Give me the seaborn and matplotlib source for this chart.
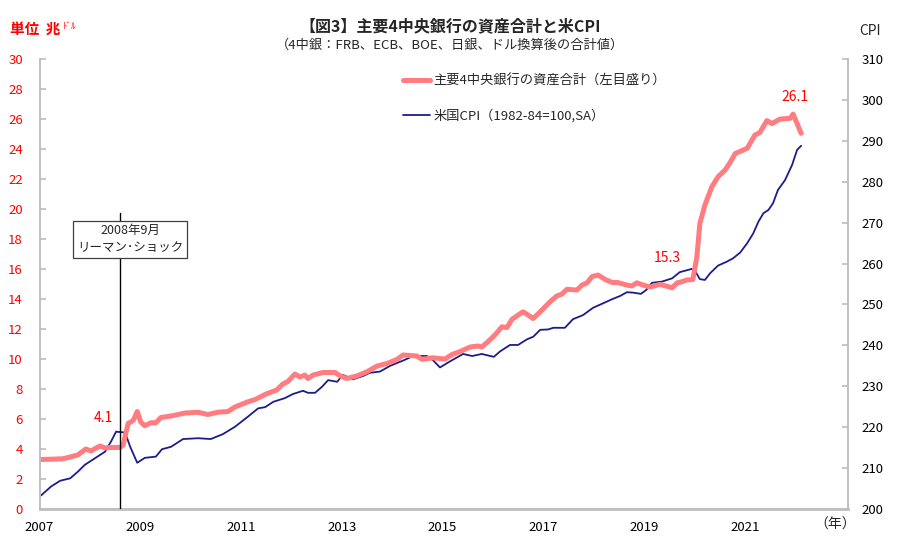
import matplotlib
matplotlib.use("Agg")
import matplotlib.pyplot as plt
import seaborn as sns
import pandas as pd

# Total assets of 4 central banks (trillion USD)
asset_year = [2007.0, 2007.25, 2007.47, 2007.76, 2007.92, 2008.02, 2008.2, 2008.3, 2008.4, 2008.6,
              2008.66, 2008.76, 2008.86, 2008.94, 2009.01, 2009.09, 2009.21, 2009.31, 2009.41, 2009.61,
              2009.89, 2010.15, 2010.34, 2010.54, 2010.74, 2010.88, 2011.14, 2011.28, 2011.52, 2011.71,
              2011.83, 2011.93, 2012.07, 2012.17, 2012.27, 2012.33, 2012.43, 2012.63, 2012.87, 2012.97,
              2013.1, 2013.3, 2013.5, 2013.7, 2013.9, 2014.1, 2014.22, 2014.49, 2014.59, 2014.81,
              2015.05, 2015.19, 2015.35, 2015.55, 2015.7, 2015.78, 2015.9, 2016.04, 2016.18, 2016.28,
              2016.38, 2016.5, 2016.6, 2016.7, 2016.8, 2016.94, 2017.13, 2017.27, 2017.37, 2017.47,
              2017.67, 2017.77, 2017.87, 2017.97, 2018.09, 2018.23, 2018.37, 2018.48, 2018.66, 2018.76,
              2018.86, 2018.98, 2019.12, 2019.32, 2019.56, 2019.66, 2019.75, 2019.85, 2019.97, 2020.05,
              2020.11, 2020.21, 2020.35, 2020.47, 2020.61, 2020.71, 2020.81, 2021.05, 2021.2, 2021.3,
              2021.44, 2021.54, 2021.7, 2021.9, 2021.96, 2022.04, 2022.12]
asset_val = [3.3, 3.32, 3.35, 3.6, 4.0, 3.87, 4.2, 4.07, 4.1, 4.1,
             4.27, 5.7, 5.9, 6.5, 5.8, 5.55, 5.75, 5.75, 6.1, 6.2,
             6.4, 6.45, 6.3, 6.45, 6.5, 6.8, 7.15, 7.3, 7.7, 7.93,
             8.33, 8.5, 9.0, 8.8, 8.93, 8.7, 8.93, 9.1, 9.1, 8.87,
             8.7, 8.87, 9.15, 9.53, 9.7, 9.98, 10.27, 10.2, 9.98, 10.08,
             10.0, 10.3, 10.5, 10.8, 10.87, 10.8, 11.15, 11.6, 12.15, 12.1,
             12.65, 12.93, 13.15, 12.93, 12.7, 13.15, 13.8, 14.2, 14.33, 14.65,
             14.6, 14.93, 15.08, 15.5, 15.6, 15.3, 15.1, 15.1, 14.93, 14.87,
             15.08, 14.93, 14.8, 14.98, 14.75, 15.08, 15.15, 15.27, 15.3, 16.8,
             19.05, 20.27, 21.5, 22.15, 22.6, 23.1, 23.7, 24.05, 24.93, 25.1,
             25.9, 25.7, 26.0, 26.05, 26.33, 25.7, 25.05]

# US CPI (1982-84=100, SA)
cpi_year = [2007.03, 2007.23, 2007.41, 2007.61, 2007.76, 2007.9, 2008.1, 2008.3, 2008.42, 2008.52,
            2008.7, 2008.8, 2008.94, 2009.09, 2009.31, 2009.43, 2009.61, 2009.85, 2010.15, 2010.4,
            2010.64, 2010.88, 2011.14, 2011.34, 2011.48, 2011.64, 2011.87, 2012.03, 2012.23, 2012.33,
            2012.47, 2012.61, 2012.73, 2012.91, 2013.02, 2013.22, 2013.42, 2013.56, 2013.76, 2013.96,
            2014.22, 2014.42, 2014.69, 2014.81, 2014.95, 2015.15, 2015.41, 2015.59, 2015.78, 2016.02,
            2016.14, 2016.34, 2016.5, 2016.68, 2016.8, 2016.94, 2017.1, 2017.2, 2017.43, 2017.59,
            2017.79, 2017.99, 2018.19, 2018.37, 2018.53, 2018.66, 2018.78, 2018.94, 2019.04, 2019.16,
            2019.36, 2019.56, 2019.71, 2019.95, 2020.01, 2020.11, 2020.21, 2020.31, 2020.47, 2020.65,
            2020.77, 2020.91, 2021.05, 2021.17, 2021.27, 2021.37, 2021.47, 2021.56, 2021.66, 2021.8,
            2021.94, 2022.04, 2022.12]
cpi_val = [203.3, 205.5, 206.9, 207.5, 209.1, 210.8, 212.4, 214.0, 216.5, 218.9,
           218.7, 215.2, 211.3, 212.5, 212.8, 214.6, 215.2, 217.1, 217.3, 217.1,
           218.3, 220.1, 222.6, 224.6, 224.9, 226.2, 227.1, 228.1, 228.9, 228.4,
           228.4, 229.9, 231.5, 231.1, 232.8, 231.7, 232.5, 233.3, 233.6, 235.0,
           236.3, 237.4, 237.4, 236.4, 234.6, 236.1, 237.9, 237.4, 237.9, 237.2,
           238.5, 240.1, 240.1, 241.5, 242.1, 243.8, 243.9, 244.3, 244.3, 246.4,
           247.4, 249.2, 250.3, 251.3, 252.1, 253.0, 252.9, 252.6, 253.5, 255.3,
           255.6, 256.4, 257.9, 258.7, 258.3, 256.2, 256.0, 257.6, 259.5, 260.5,
           261.3, 262.7, 265.0, 267.4, 270.2, 272.3, 273.1, 274.7, 278.0, 280.4,
           284.1, 287.8, 288.8]

year_ticks = list(range(2007, 2024))
year_labels = ["2007", "", "2009", "", "2011", "", "2013", "", "2015", "", "2017", "", "2019", "", "2021", "", ""]

assets = pd.DataFrame({"year": asset_year, "value": asset_val})
cpi = pd.DataFrame({"year": cpi_year, "value": cpi_val})

sns.set_theme(style="white")
plt.rcParams["font.family"] = ["Noto Sans CJK JP", "DejaVu Sans"]

pink = "#FF7C80"
navy = "#1C1C8C"
red = "#FF0000"
gray = "#BFBFBF"

fig = plt.figure(figsize=(9, 5.48), dpi=100)
ax = fig.add_axes([0.0439, 0.0712, 0.8983, 0.821])
ax2 = ax.twinx()

sns.lineplot(data=assets, x="year", y="value", ax=ax, color=pink, linewidth=3.6,
             label="主要4中央銀行の資産合計（左目盛り）", legend=False)
sns.lineplot(data=cpi, x="year", y="value", ax=ax2, color=navy, linewidth=1.3,
             label="米国CPI（1982-84=100,SA）", legend=False)
ax.set_zorder(2)
ax.patch.set_visible(False)

ax.set_xlim(2007, 2023.05)
ax.set_ylim(0, 30)
ax2.set_ylim(200, 310)
ax.set_yticks(range(0, 31, 2))
ax2.set_yticks(range(200, 311, 10))
ax.set_xticks(year_ticks)
ax.set_xticklabels(year_labels)
ax.set_xlabel("")
ax.set_ylabel("")
ax2.set_ylabel("")

for a in (ax, ax2):
    for s in a.spines.values():
        s.set_color(gray)
    a.spines["top"].set_visible(False)
ax.spines["bottom"].set_linewidth(2)
ax.tick_params(axis="y", colors=gray, labelcolor=red, labelsize=9.5, direction="in", length=4, pad=12)
ax.tick_params(axis="x", colors="#808080", labelcolor="black", labelsize=9.5, direction="in", length=4, pad=9)
ax2.tick_params(axis="y", colors=gray, labelcolor="black", labelsize=9.5, direction="in", length=4, pad=10)

# Lehman shock marker
lehman = 2008.59
ax.axvline(lehman, ymin=0, ymax=0.658, color="black", linewidth=1, zorder=3)
ax.text(2008.8, 18.0, "2008年9月\nリーマン･ショック", ha="center", va="center", fontsize=9,
        linespacing=1.35, zorder=4,
        bbox=dict(boxstyle="square,pad=0.3", facecolor="white", edgecolor="#404040", linewidth=0.9))

# value labels
ax.text(2008.26, 6.07, "4.1", color=red, fontsize=10, ha="center", va="center")
ax.text(2019.46, 16.73, "15.3", color=red, fontsize=10, ha="center", va="center")
ax.text(2022.0, 27.47, "26.1", color=red, fontsize=10, ha="center", va="center")

# legend
h1, l1 = ax.get_legend_handles_labels()
h2, l2 = ax2.get_legend_handles_labels()
ax.legend(h1 + h2, l1 + l2, loc="upper left", bbox_to_anchor=(0.435, 0.885),
          bbox_transform=fig.transFigure, frameon=False, fontsize=9.5,
          handlelength=2.0, handletextpad=0.3, labelspacing=1.6)

# titles and units
fig.text(0.5, 0.953, "【図3】主要4中央銀行の資産合計と米CPI", ha="center", va="center",
         fontsize=11.5, fontweight="bold")
fig.text(0.5, 0.918, "（4中銀：FRB、ECB、BOE、日銀、ドル換算後の合計値）", ha="center", va="center",
         fontsize=9.5)
fig.text(0.011, 0.948, "単位  兆", color=red, ha="left", va="center", fontsize=10.5, fontweight="bold")
fig.text(0.070, 0.952, "ﾄﾞﾙ", color=red, ha="left", va="center", fontsize=6.5)
fig.text(0.967, 0.943, "CPI", ha="center", va="center", fontsize=10)
fig.text(0.928, 0.042, "（年）", ha="center", va="center", fontsize=10)

fig.savefig("out.png", dpi=100)
